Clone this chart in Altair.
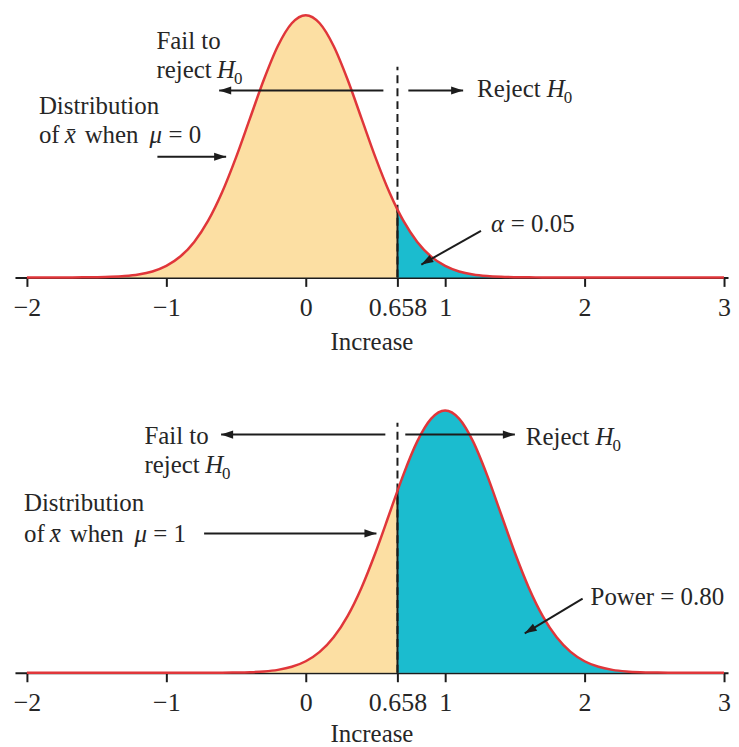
import altair as alt
import pandas as pd

# ---------------- data ----------------
X = [-2.0, -1.9, -1.8, -1.7, -1.6, -1.5, -1.4, -1.3, -1.2, -1.1,
     -1.0, -0.9, -0.8, -0.7, -0.6, -0.5, -0.4, -0.3, -0.2, -0.1,
     0.0, 0.1, 0.2, 0.3, 0.4, 0.5, 0.6, 0.658, 0.7, 0.8, 0.9,
     1.0, 1.1, 1.2, 1.3, 1.4, 1.5, 1.6, 1.7, 1.8, 1.9,
     2.0, 2.1, 2.2, 2.3, 2.4, 2.5, 2.6, 2.7, 2.8, 2.9, 3.0]

# density of x-bar when mu = 0 (top panel)
Y_TOP = [0.0, 0.0, 0.0, 0.0001, 0.0003, 0.0009, 0.0022, 0.0051, 0.0111, 0.0227,
         0.0438, 0.0793, 0.1350, 0.2157, 0.3238, 0.4566, 0.6049, 0.7528, 0.8802, 0.9667,
         0.9974, 0.9667, 0.8802, 0.7528, 0.6049, 0.4566, 0.3238, 0.2578, 0.2157, 0.1350, 0.0793,
         0.0438, 0.0227, 0.0111, 0.0051, 0.0022, 0.0009, 0.0003, 0.0001, 0.0, 0.0,
         0.0, 0.0, 0.0, 0.0, 0.0, 0.0, 0.0, 0.0, 0.0, 0.0, 0.0]

# density of x-bar when mu = 1 (bottom panel)
Y_BOT = [0.0, 0.0, 0.0, 0.0, 0.0, 0.0, 0.0, 0.0, 0.0, 0.0,
         0.0, 0.0, 0.0, 0.0001, 0.0003, 0.0009, 0.0022, 0.0051, 0.0111, 0.0227,
         0.0438, 0.0793, 0.1350, 0.2157, 0.3238, 0.4566, 0.6049, 0.6921, 0.7528, 0.8802, 0.9667,
         0.9974, 0.9667, 0.8802, 0.7528, 0.6049, 0.4566, 0.3238, 0.2157, 0.1350, 0.0793,
         0.0438, 0.0227, 0.0111, 0.0051, 0.0022, 0.0009, 0.0003, 0.0001, 0.0, 0.0, 0.0]

CUT = 0.658
TICKS = [-2, -1, 0, 0.658, 1, 2, 3]

# annotation text segments (x, y in data units)
TOP_TEXT = ["Fail to", "reject", "Distribution", "of", "when", "Reject"]
TOP_TEXT_X = [-1.071, -1.071, -1.914, -1.914, -1.586, 1.229]
TOP_TEXT_Y = [0.868, 0.759, 0.620, 0.511, 0.511, 0.688]
TOP_ITAL = ["H", "x\u0304", "\u03bc", "H", "\u03b1"]
TOP_ITAL_X = [-0.636, -1.729, -1.121, 1.729, 1.329]
TOP_ITAL_Y = [0.759, 0.511, 0.511, 0.688, 0.173]
TOP_PLAIN2 = ["= 0", "= 0.05"]
TOP_PLAIN2_X = [-0.985, 1.471]
TOP_PLAIN2_Y = [0.511, 0.173]
TOP_SUB_X = [-0.514, 1.850]
TOP_SUB_Y = [0.736, 0.665]

BOT_TEXT = ["Fail to", "reject", "Distribution", "of", "when", "Reject", "Power = 0.80"]
BOT_TEXT_X = [-1.157, -1.157, -2.021, -2.021, -1.693, 1.579, 2.043]
BOT_TEXT_Y = [0.872, 0.759, 0.617, 0.496, 0.496, 0.868, 0.259]
BOT_ITAL = ["H", "x\u0304", "\u03bc", "H"]
BOT_ITAL_X = [-0.721, -1.836, -1.229, 2.079]
BOT_ITAL_Y = [0.759, 0.496, 0.496, 0.868]
BOT_PLAIN2 = ["= 1"]
BOT_PLAIN2_X = [-1.093]
BOT_PLAIN2_Y = [0.496]
BOT_SUB_X = [-0.600, 2.200]
BOT_SUB_Y = [0.736, 0.845]

# arrows: start (x, y) -> tip (x2, y2), head angle (deg clockwise from up)
TOP_ARROW_X = [0.557, 0.736, -1.064, 1.257]
TOP_ARROW_Y = [0.711, 0.711, 0.459, 0.177]
TOP_ARROW_X2 = [-0.621, 1.129, -0.571, 0.829]
TOP_ARROW_Y2 = [0.711, 0.711, 0.459, 0.049]
TOP_ARROW_ANG = [270, 90, 90, 240]

BOT_ARROW_X = [0.571, 0.714, -0.729, 1.986]
BOT_ARROW_Y = [0.906, 0.906, 0.530, 0.282]
BOT_ARROW_X2 = [-0.607, 1.500, 0.507, 1.571]
BOT_ARROW_Y2 = [0.906, 0.906, 0.530, 0.150]
BOT_ARROW_ANG = [270, 90, 90, 239]

TOP_DASH_TOP = 0.801
BOT_DASH_TOP = 0.951

# ---------------- styling ----------------
YELLOW = "#FCDFA3"
TEAL = "#1BBCCF"
RED = "#E0363A"
DARK = "#1c1c1c"
TEXTC = "#262626"
FONT = "Liberation Serif"
FS = 25
W, H = 716, 263
XDOM = [-2.0857, 3.029]
YDOM = [0, 0.9962]

LABEL_EXPR = ("datum.value < 0 ? '\u2212' + format(-datum.value, 'd') : "
              "(datum.value == 0.658 ? '0.658' : format(datum.value, 'd'))")


def xenc(field="x", tpad=9):
    return alt.X(
        f"{field}:Q",
        scale=alt.Scale(domain=XDOM, nice=False, zero=False),
        axis=alt.Axis(values=TICKS, labelExpr=LABEL_EXPR, grid=False,
                      domainColor=DARK, domainWidth=2, tickColor=DARK,
                      tickWidth=2, tickSize=9, labelFont=FONT,
                      labelFontSize=26, labelColor=TEXTC, labelPadding=8,
                      labelFlush=False, labelOverlap=False,
                      titleFont=FONT, titleFontSize=FS,
                      titleFontWeight="normal", titleColor=TEXTC,
                      titlePadding=tpad),
        title="Increase",
    )


def yenc(field="y"):
    return alt.Y(f"{field}:Q", scale=alt.Scale(domain=YDOM, nice=False),
                 axis=None)


def panel(yvals, cut_val, dash_top, texts, tx, ty, itals, ix, iy,
          plain2, px, py, subx, suby, ax, ay, ax2, ay2, aang, tpad):
    X_ = lambda f="x": xenc(f, tpad)
    df = pd.DataFrame({"x": X, "y": yvals})
    base = alt.Chart(df)
    yel = base.transform_filter(f"datum.x <= {CUT}").mark_area(
        color=YELLOW, interpolate="monotone", opacity=1).encode(X_(), yenc())
    teal = base.transform_filter(f"datum.x >= {CUT}").mark_area(
        color=TEAL, interpolate="monotone", opacity=1).encode(X_(), yenc())
    curve = base.mark_line(color=RED, strokeWidth=2.5,
                           interpolate="monotone").encode(X_(), yenc())

    dash = alt.Chart(pd.DataFrame({"x": [CUT], "y": [0.0], "y2": [dash_top]})).mark_rule(
        color=DARK, strokeWidth=2, strokeDash=[8, 5]).encode(
        X_(), yenc(), y2="y2:Q")
    solid = alt.Chart(pd.DataFrame({"x": [CUT], "y": [0.0], "y2": [cut_val]})).mark_rule(
        color=DARK, strokeWidth=2).encode(X_(), yenc(), y2="y2:Q")

    adf = pd.DataFrame({"x": ax, "y": ay, "x2": ax2, "y2": ay2, "ang": aang})
    arrows = alt.Chart(adf).mark_rule(color=DARK, strokeWidth=2).encode(
        X_(), yenc(), x2="x2:Q", y2="y2:Q")
    heads = alt.Chart(adf).mark_point(
        shape="M0,0L0.75,2.2L-0.75,2.2Z", filled=True, size=120,
        color=DARK, opacity=1, strokeWidth=0).encode(
        X_("x2"), yenc("y2"), angle=alt.Angle("ang:Q", scale=None))

    tdf = pd.DataFrame({"x": tx, "y": ty, "t": texts})
    t1 = alt.Chart(tdf).mark_text(align="left", baseline="alphabetic",
                                  font=FONT, fontSize=FS, color=TEXTC).encode(
        X_(), yenc(), text="t:N")
    idf = pd.DataFrame({"x": ix, "y": iy, "t": itals})
    t2 = alt.Chart(idf).mark_text(align="left", baseline="alphabetic",
                                  font=FONT, fontSize=FS, fontStyle="italic",
                                  color=TEXTC).encode(X_(), yenc(), text="t:N")
    pdf = pd.DataFrame({"x": px, "y": py, "t": plain2})
    t3 = alt.Chart(pdf).mark_text(align="left", baseline="alphabetic",
                                  font=FONT, fontSize=FS, color=TEXTC).encode(
        X_(), yenc(), text="t:N")
    sdf = pd.DataFrame({"x": subx, "y": suby, "t": ["0"] * len(subx)})
    t4 = alt.Chart(sdf).mark_text(align="left", baseline="alphabetic",
                                  font=FONT, fontSize=17, color=TEXTC).encode(
        X_(), yenc(), text="t:N")

    return alt.layer(yel, teal, dash, solid, curve, arrows, heads,
                     t1, t2, t3, t4).properties(width=W, height=H)


top = panel(Y_TOP, 0.2578, TOP_DASH_TOP, TOP_TEXT, TOP_TEXT_X, TOP_TEXT_Y,
            TOP_ITAL, TOP_ITAL_X, TOP_ITAL_Y, TOP_PLAIN2, TOP_PLAIN2_X,
            TOP_PLAIN2_Y, TOP_SUB_X, TOP_SUB_Y, TOP_ARROW_X, TOP_ARROW_Y,
            TOP_ARROW_X2, TOP_ARROW_Y2, TOP_ARROW_ANG, 9)
bot = panel(Y_BOT, 0.6921, BOT_DASH_TOP, BOT_TEXT, BOT_TEXT_X, BOT_TEXT_Y,
            BOT_ITAL, BOT_ITAL_X, BOT_ITAL_Y, BOT_PLAIN2, BOT_PLAIN2_X,
            BOT_PLAIN2_Y, BOT_SUB_X, BOT_SUB_Y, BOT_ARROW_X, BOT_ARROW_Y,
            BOT_ARROW_X2, BOT_ARROW_Y2, BOT_ARROW_ANG, 6)

chart = alt.vconcat(top, bot, spacing=51).properties(
    background="white",
    padding={"left": 5, "top": 0, "right": 0, "bottom": 0}
).configure_view(strokeWidth=0, stroke="transparent")

chart.save("out.html", embed_options={"renderer": "svg", "actions": False})
